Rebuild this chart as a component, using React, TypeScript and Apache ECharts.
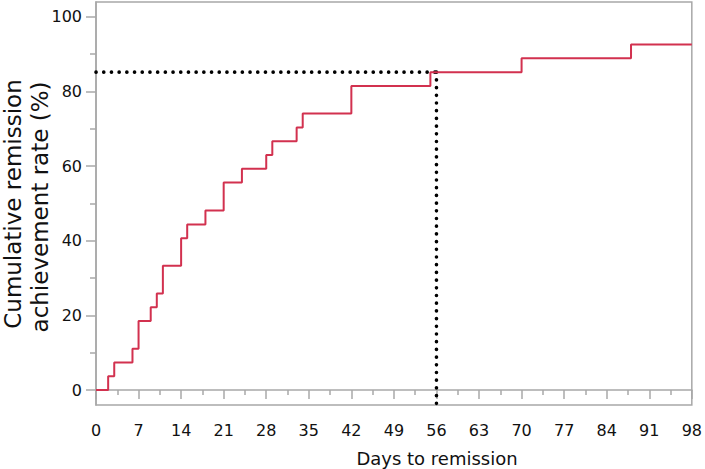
import React, { useEffect, useRef } from "react";
import * as echarts from "echarts";

const days = [0, 2, 3, 6, 7, 9, 10, 11, 14, 15, 18, 21, 24, 28, 29, 33, 34, 42, 55, 70, 88, 98];
const rate = [0, 3.7, 7.4, 11.1, 18.5, 22.2, 25.9, 33.3, 40.7, 44.4, 48.1, 55.6, 59.3, 63.0, 66.7, 70.4, 74.1, 81.5, 85.2, 88.9, 92.6, 92.6];
const yMajorTicks = [0, 20, 40, 60, 80, 100];
const yMinorTicks = [10, 30, 50, 70, 90];
const medianDay = 56;
const medianRate = 85.2;
const yTitleLines = ["Cumulative remission", "achievement rate (%)"];
const xTitle = "Days to remission";

const FONT = "DejaVu Sans";
const AXIS = "#a8a8a8";

export default function App() {
  const ref = useRef<HTMLDivElement>(null);
  useEffect(() => {
    if (!ref.current) return;
    const chart = echarts.init(ref.current, null, { renderer: "svg" });
    const yMin = -4;
    const yMax = 104;
    const dotted = {
      color: "#000",
      width: 3.6,
      type: [0.1, 7.6] as any,
      cap: "round" as any,
    };
    chart.setOption({
      animation: false,
      backgroundColor: "#fff",
      grid: {
        left: 96,
        right: 9,
        top: 2,
        bottom: 64,
        show: true,
        borderColor: AXIS,
        borderWidth: 1.5,
      },
      xAxis: {
        type: "value",
        min: 0,
        max: 98,
        interval: 7,
        axisLine: { show: true, lineStyle: { color: AXIS, width: 1.5 } },
        axisTick: { show: true, length: 9, lineStyle: { color: AXIS, width: 1.5 } },
        minorTick: { show: true, splitNumber: 2, length: 5, lineStyle: { color: AXIS, width: 1.5 } },
        splitLine: { show: false },
        axisLabel: { color: "#111", fontFamily: FONT, fontSize: 16, margin: 17 },
      },
      yAxis: [
        {
          type: "value",
          min: yMin,
          max: yMax,
          axisLine: { show: true, lineStyle: { color: AXIS, width: 1.5 } },
          axisTick: { show: true, length: 10, customValues: yMajorTicks, lineStyle: { color: AXIS, width: 1.5 } },
          splitLine: { show: false },
          axisLabel: { color: "#111", fontFamily: FONT, fontSize: 16, margin: 14, customValues: yMajorTicks },
        },
        {
          type: "value",
          min: yMin,
          max: yMax,
          position: "left",
          axisLine: { show: false },
          axisTick: { show: true, length: 6, customValues: yMinorTicks, lineStyle: { color: AXIS, width: 1.5 } },
          splitLine: { show: false },
          axisLabel: { show: false },
        },
      ],
      series: [
        {
          type: "line",
          data: [
            [0, medianRate],
            [medianDay, medianRate],
          ],
          symbol: "none",
          lineStyle: dotted,
          z: 3,
          silent: true,
        },
        {
          type: "line",
          data: [
            [medianDay, medianRate],
            [medianDay, yMin],
          ],
          symbol: "none",
          lineStyle: dotted,
          z: 3,
          silent: true,
        },
        {
          type: "line",
          step: "end",
          data: days.map((d, i) => [d, rate[i]]),
          symbol: "none",
          lineStyle: { color: "#d2314f", width: 2 },
          z: 4,
        },
      ],
      graphic: [
        {
          type: "text",
          x: 13,
          y: 204,
          rotation: Math.PI / 2,
          style: {
            text: yTitleLines[0],
            fontFamily: FONT,
            fontSize: 23,
            fill: "#111",
            align: "center",
            verticalAlign: "middle",
          },
        },
        {
          type: "text",
          x: 40,
          y: 207,
          rotation: Math.PI / 2,
          style: {
            text: yTitleLines[1],
            fontFamily: FONT,
            fontSize: 23,
            fill: "#111",
            align: "center",
            verticalAlign: "middle",
          },
        },
        {
          type: "text",
          x: 437,
          y: 458,
          style: {
            text: xTitle,
            fontFamily: FONT,
            fontSize: 18,
            fill: "#111",
            align: "center",
            verticalAlign: "middle",
          },
        },
      ],
    });
    return () => chart.dispose();
  }, []);
  return <div ref={ref} style={{ width: 705, height: 469, position: "absolute", left: 0, top: 0 }} />;
}
